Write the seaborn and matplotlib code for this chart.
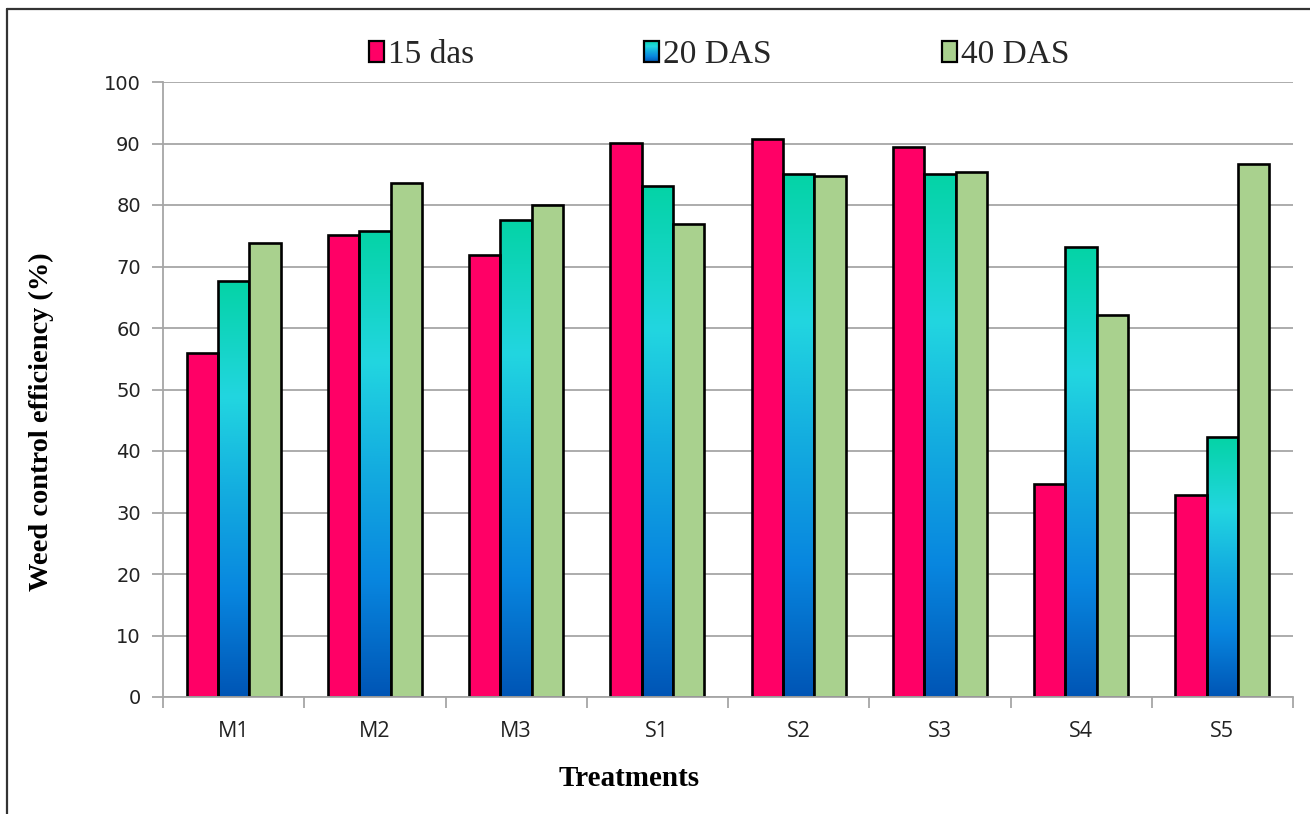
import numpy as np
import pandas as pd
import matplotlib
matplotlib.use("Agg")
import matplotlib.pyplot as plt
import seaborn as sns
from matplotlib.colors import LinearSegmentedColormap
from matplotlib.patches import Patch, Rectangle
from matplotlib.legend_handler import HandlerBase
from matplotlib.image import BboxImage
from matplotlib.transforms import Bbox, TransformedBbox
from matplotlib.lines import Line2D

# ---- data ----
treatments = ["M1", "M2", "M3", "S1", "S2", "S3", "S4", "S5"]
das15 = [55.9, 75.1, 71.8, 90.1, 90.7, 89.5, 34.6, 32.9]
das20 = [67.7, 75.8, 77.6, 83.1, 85.0, 85.0, 73.1, 42.2]
das40 = [73.9, 83.6, 80.0, 76.9, 84.7, 85.3, 62.1, 86.6]
series_names = ["15 das", "20 DAS", "40 DAS"]
yticks = [0, 10, 20, 30, 40, 50, 60, 70, 80, 90, 100]

df = pd.DataFrame({
    "Treatment": treatments * 3,
    "value": das15 + das20 + das40,
    "Series": [series_names[0]] * 8 + [series_names[1]] * 8 + [series_names[2]] * 8,
})

red = "#FF0066"
green = "#A9D18E"
mid_blue = "#17B6DC"
grad_cmap = LinearSegmentedColormap.from_list(
    "g", [(0.0, "#0055B5"), (0.25, "#0886DF"), (0.5, "#14AEE0"),
          (0.72, "#22D6E0"), (1.0, "#04D3A6")])
grad = np.linspace(0, 1, 256).reshape(-1, 1)

sns.set_theme(style="white")
plt.rcParams["font.family"] = ["DejaVu Sans"]

fig = plt.figure(figsize=(13.1, 8.14), dpi=100)
ax = fig.add_axes([163 / 1310, 1 - 697 / 814, (1293 - 163) / 1310, (697 - 82) / 814])

sns.barplot(data=df, x="Treatment", y="value", hue="Series",
            palette=[red, mid_blue, green], width=0.667, gap=0,
            edgecolor="black", linewidth=1.9, ax=ax, legend=False,
            errorbar=None, saturation=1)

# gradient for the 20 DAS bars
for p in ax.containers[1].patches:
    x0, y0 = p.get_x(), p.get_y()
    w, h = p.get_width(), p.get_height()
    im = ax.imshow(grad, extent=[x0, x0 + w, y0, y0 + h], origin="lower",
                   cmap=grad_cmap, aspect="auto", interpolation="bicubic",
                   zorder=p.get_zorder() - 0.01)
    im.set_clip_path(p)
    p.set_facecolor("none")

ax.set_xlim(-0.5, 7.5)
ax.set_ylim(0, 100)
ax.set_yticks(yticks)
ax.set_yticklabels([str(v) for v in yticks])

ax.set_axisbelow(True)
ax.yaxis.grid(True, color="#A6A6A6", linewidth=1.3)
ax.xaxis.grid(False)

for s in ["top", "right"]:
    ax.spines[s].set_visible(False)
for s in ["left", "bottom"]:
    ax.spines[s].set_color("#A6A6A6")
    ax.spines[s].set_linewidth(1.3)

ax.tick_params(axis="y", which="major", length=8, width=1.3, color="#A6A6A6",
               direction="out", pad=8, labelsize=14, labelcolor="#222222", left=True)
ax.tick_params(axis="x", which="major", length=0, pad=17, labelsize=15.5, labelcolor="#222222")
ax.set_xticks(np.arange(-0.5, 8.0, 1.0), minor=True)
ax.tick_params(axis="x", which="minor", length=8, width=1.3, color="#A6A6A6",
               direction="out", bottom=True)
for lab in ax.get_xticklabels():
    lab.set_fontfamily("Open Sans")

ax.set_xlabel("Treatments", fontfamily="Liberation Serif", fontweight="bold",
              fontsize=21, color="black", va="center", ha="center")
ax.xaxis.set_label_coords((629 - 163) / 1130, (697 - 778) / 615)
ax.set_ylabel("Weed control efficiency (%)", fontfamily="Liberation Serif",
              fontweight="bold", fontsize=20.5, color="black", va="center", ha="center")
ax.yaxis.set_label_coords((41 - 163) / 1130, (697 - 422) / 615)


class GradHandler(HandlerBase):
    def create_artists(self, legend, orig_handle, xdescent, ydescent,
                       width, height, fontsize, trans):
        bb = TransformedBbox(Bbox.from_bounds(-xdescent, -ydescent, width, height), trans)
        img = BboxImage(bb, cmap=grad_cmap, interpolation="bicubic", origin="lower")
        img.set_data(grad)
        rect = Rectangle((-xdescent, -ydescent), width, height, facecolor="none",
                         edgecolor="black", linewidth=1.6, transform=trans)
        return [img, rect]


h1 = Patch(facecolor=red, edgecolor="black", linewidth=1.6)
h2 = Patch(facecolor=mid_blue, edgecolor="black", linewidth=1.6)
h3 = Patch(facecolor=green, edgecolor="black", linewidth=1.6)
fig.legend([h1, h2, h3], series_names, loc="center",
           bbox_to_anchor=(719 / 1310, 1 - 55 / 814), ncol=3, frameon=False,
           prop={"family": "Liberation Serif", "size": 24},
           handlelength=0.45, handleheight=0.62, handletextpad=0.12,
           columnspacing=5.1, handler_map={h2: GradHandler()})

# outer frame (top and left edges visible)
fig.add_artist(Line2D([7 / 1310, 7 / 1310], [0, 1 - 9 / 814], transform=fig.transFigure,
                      color="#333333", linewidth=1.6))
fig.add_artist(Line2D([7 / 1310, 1], [1 - 9 / 814, 1 - 9 / 814], transform=fig.transFigure,
                      color="#333333", linewidth=1.6))

fig.savefig("out.png", dpi=100, facecolor="white")
